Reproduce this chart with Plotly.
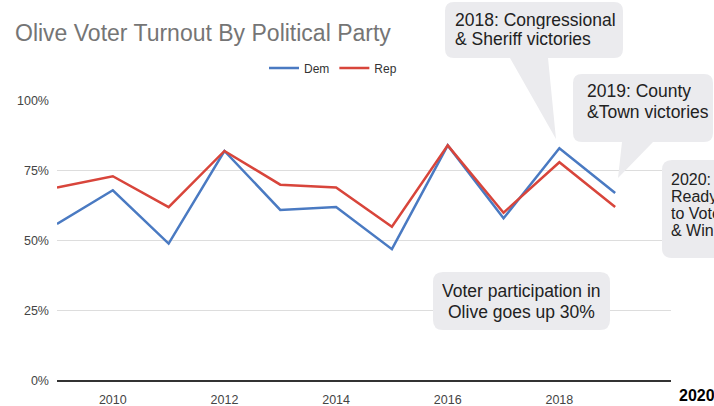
import plotly.graph_objects as go

years = [2009, 2010, 2011, 2012, 2013, 2014, 2015, 2016, 2017, 2018, 2019]
dem = [56, 68, 49, 82, 61, 62, 47, 84, 58, 83, 67]
rep = [69, 73, 62, 82, 70, 69, 55, 84, 60, 78, 62]
x_ticks = [2010, 2012, 2014, 2016, 2018]
y_ticks = [0, 25, 50, 75, 100]
y_tick_labels = ["0%", "25%", "50%", "75%", "100%"]

W, H = 714, 406
FONT = "Arial, Liberation Sans, sans-serif"


def px(x):
    return x / W


def py(y):
    return 1 - y / H


def bubble(x0, y0, x1, y1, r, tail=None):
    def P(x, y):
        return f"{px(x):.5f},{py(y):.5f}"
    s = f"M {P(x0 + r, y0)} L {P(x1 - r, y0)} Q {P(x1, y0)} {P(x1, y0 + r)} "
    s += f"L {P(x1, y1 - r)} Q {P(x1, y1)} {P(x1 - r, y1)} "
    if tail:
        bx0, bx1, tx, ty = tail
        s += f"L {P(bx1, y1)} L {P(tx, ty)} L {P(bx0, y1)} "
    s += f"L {P(x0 + r, y1)} Q {P(x0, y1)} {P(x0, y1 - r)} "
    s += f"L {P(x0, y0 + r)} Q {P(x0, y0)} {P(x0 + r, y0)} Z"
    return dict(type="path", path=s, xref="paper", yref="paper",
                fillcolor="#ebebee", line=dict(width=0), layer="above")


fig = go.Figure()
fig.add_trace(go.Scatter(x=years, y=dem, name="Dem", mode="lines",
                         line=dict(color="#4a7ac2", width=2.5)))
fig.add_trace(go.Scatter(x=years, y=rep, name="Rep", mode="lines",
                         line=dict(color="#d8453b", width=2.5)))

shapes = [
    bubble(445, 2, 623, 58, 9, tail=(510, 548, 556, 139)),
    bubble(573, 74, 713, 142, 9, tail=(622, 653, 618, 178)),
    bubble(662, 160, 760, 258, 10),
    bubble(433, 272, 610, 330, 10),
]

annotations = []
def txt(t, x, y, size=17.5, xanchor="left", color="#222222", bold=False, h=None):
    if bold:
        t = f"<b>{t}</b>"
    a = dict(text=t, x=px(x), y=py(y), xref="paper", yref="paper",
             xanchor=xanchor, yanchor="middle", showarrow=False,
             font=dict(family=FONT, size=size, color=color))
    if h:
        a["height"] = h
    annotations.append(a)

txt("Olive Voter Turnout By Political Party", 13, 33, size=23, color="#757575")
txt("2018: Congressional", 453, 20.5, h=18)
txt("& Sheriff victories", 453, 39.5, h=18)
txt("2019: County", 585, 91, h=20)
txt("&Town victories", 585, 112, h=20)
txt("2020:", 669, 179, size=16, h=16)
txt("Ready", 669, 196, size=16, h=16)
txt("to Vote", 669, 213, size=16, h=16)
txt("& Win", 669, 230, size=16, h=16)
txt("Voter participation in", 521, 291, xanchor="center", h=20)
txt("Olive goes up 30%", 521, 312, xanchor="center", h=20)
txt("2020", 677, 395, size=16, color="#000000", bold=True)

fig.update_layout(
    width=W, height=H,
    margin=dict(l=0, r=0, t=0, b=0),
    paper_bgcolor="white", plot_bgcolor="white",
    font=dict(family=FONT, size=12, color="#444444"),
    showlegend=True,
    legend=dict(orientation="h", x=px(264), y=py(68), xanchor="left", yanchor="middle",
                font=dict(size=12, color="#333333"), bgcolor="rgba(0,0,0,0)"),
    xaxis=dict(domain=[px(57), px(671)], range=[2009, 2020], automargin=False,
               tickvals=x_ticks, ticktext=[str(v) for v in x_ticks],
               showgrid=False, zeroline=False, showline=False, ticks="",
               ticklabelstandoff=9, tickfont=dict(size=12.5, color="#444444")),
    yaxis=dict(domain=[py(381), py(100.5)], range=[0, 100], automargin=False,
               tickvals=y_ticks, ticktext=y_tick_labels,
               showgrid=True, gridcolor="#dddddd", gridwidth=1,
               zeroline=True, zerolinecolor="#333333", zerolinewidth=2,
               showline=False, ticks="", ticklabelstandoff=7,
               tickfont=dict(size=12.5, color="#444444")),
    shapes=shapes,
    annotations=annotations,
)

fig.write_html("out.html", config={"displayModeBar": False},
               post_script="document.body.style.margin='0';document.body.style.overflow='hidden';")
